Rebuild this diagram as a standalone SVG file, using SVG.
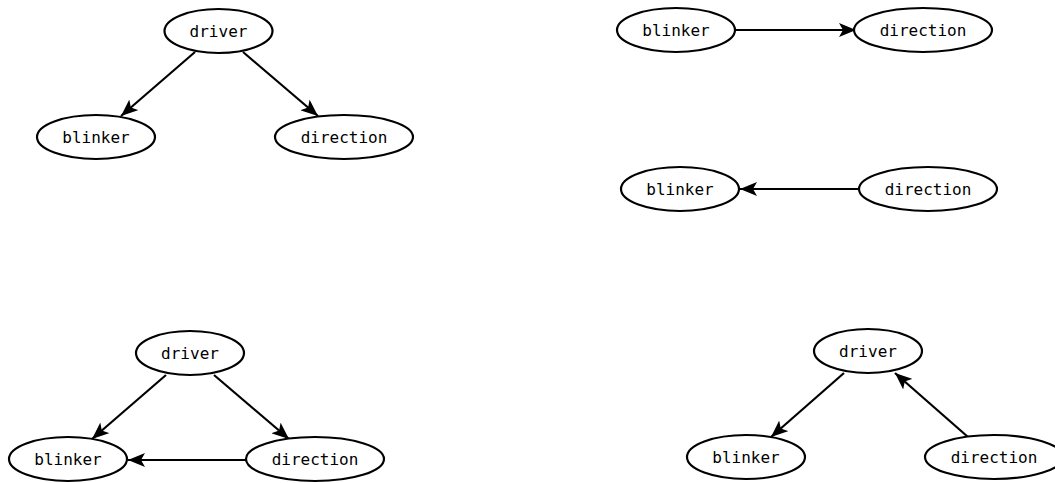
<svg xmlns="http://www.w3.org/2000/svg" width="1055" height="483" viewBox="0 0 1055 483">
<style>
.n ellipse{fill:#fff;stroke:#000;stroke-width:2.2}
.n text{font-family:"DejaVu Sans Mono",monospace;font-size:16px;text-anchor:middle;dominant-baseline:central;fill:#000}
.e line{stroke:#000;stroke-width:2.2;marker-end:url(#ah)}
</style>
<defs>
<marker id="ah" markerUnits="userSpaceOnUse" markerWidth="18" markerHeight="14" refX="17" refY="7" orient="auto" viewBox="0 0 18 14">
<path d="M0,0 L17,7 L0,14 L4,7 z" fill="#000"/>
</marker>
</defs>
<rect width="1055" height="483" fill="#fff"/>
<g id="edges" class="e">
<line x1="195" y1="52" x2="121" y2="116"/>
<line x1="243" y1="52" x2="318" y2="116"/>
<line x1="735" y1="30" x2="856" y2="30"/>
<line x1="860" y1="189" x2="740" y2="189"/>
<line x1="166" y1="375" x2="92" y2="439"/>
<line x1="214" y1="375" x2="289" y2="439"/>
<line x1="247" y1="460" x2="128" y2="460"/>
<line x1="844" y1="373" x2="771" y2="437"/>
<line x1="968" y1="437" x2="895" y2="373"/>
</g>
<g id="g1_driver" class="n"><ellipse cx="218.5" cy="31" rx="54" ry="22"/><text x="218.5" y="31">driver</text></g>
<g id="g1_blinker" class="n"><ellipse cx="96" cy="137" rx="59" ry="22"/><text x="96" y="137">blinker</text></g>
<g id="g1_direction" class="n"><ellipse cx="344" cy="137" rx="69" ry="22"/><text x="344" y="137">direction</text></g>
<g id="g2_blinker" class="n"><ellipse cx="676" cy="30" rx="59" ry="22"/><text x="676" y="30">blinker</text></g>
<g id="g2_direction" class="n"><ellipse cx="923" cy="30" rx="69" ry="22"/><text x="923" y="30">direction</text></g>
<g id="g3_blinker" class="n"><ellipse cx="680" cy="189" rx="59" ry="22"/><text x="680" y="189">blinker</text></g>
<g id="g3_direction" class="n"><ellipse cx="928" cy="189" rx="69" ry="22"/><text x="928" y="189">direction</text></g>
<g id="g4_driver" class="n"><ellipse cx="190" cy="353" rx="54" ry="22"/><text x="190" y="353">driver</text></g>
<g id="g4_blinker" class="n"><ellipse cx="68" cy="459" rx="59" ry="22"/><text x="68" y="459">blinker</text></g>
<g id="g4_direction" class="n"><ellipse cx="315" cy="459" rx="69" ry="22"/><text x="315" y="459">direction</text></g>
<g id="g5_driver" class="n"><ellipse cx="868" cy="351" rx="54" ry="22"/><text x="868" y="351">driver</text></g>
<g id="g5_blinker" class="n"><ellipse cx="746" cy="457" rx="59" ry="22"/><text x="746" y="457">blinker</text></g>
<g id="g5_direction" class="n"><ellipse cx="994" cy="457" rx="69" ry="22"/><text x="994" y="457">direction</text></g>
</svg>
